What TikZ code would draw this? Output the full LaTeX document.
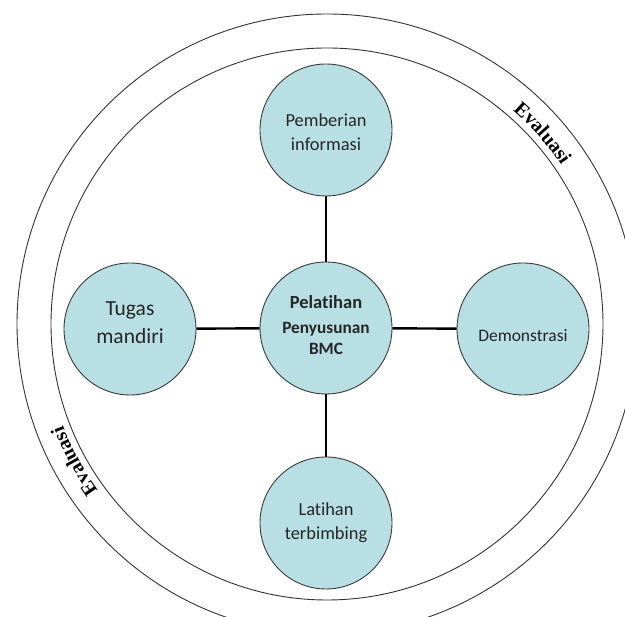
\documentclass[tikz,border=0pt]{standalone}
\usepackage{fontspec}
\setmainfont{Carlito}[RawFeature=-liga]
\newfontfamily\evalfont{Liberation Serif}
\usetikzlibrary{decorations.text,calc}
\definecolor{bubble}{HTML}{B8DFE3}
\definecolor{rim}{HTML}{3A3A3A}
\tikzset{
  bubblenode/.style={circle, draw=rim, line width=0.9pt, fill=bubble, minimum size=132pt, inner sep=0pt, align=center, text=black!85},
  bubbletext/.style={align=center, text=black!85},
  ring/.style={draw=black!80, line width=0.9pt},
  link/.style={draw=black, line width=2.4pt},
  evaltext/.style={decorate, decoration={text along path, text align=center,
     text={|\evalfont\bfseries\fontsize{20}{20}\selectfont|Evaluasi}}}
}
\begin{document}
\begin{tikzpicture}[x=1pt,y=1pt]
\useasboundingbox (0,0) rectangle (625,617);
\clip (0,0) rectangle (625,617);
\fill[white] (0,0) rectangle (625,617);
\coordinate (O) at (327,293);
\draw[ring] (O) circle[radius=310];
\draw[ring] (O) circle[radius=276];
\path[evaltext] ($(O)+(50:283)$) arc[start angle=50, end angle=33, radius=283];
\path[evaltext] ($(O)+(217:283)$) arc[start angle=217, end angle=200, radius=283];
\node[bubblenode] (c) at (326,289) {};
\node[bubbletext, font=\bfseries\fontsize{17.3}{21}\selectfont] (ct) at (326,292) {{\fontsize{18.5}{25}\selectfont Pelatihan}\\[4pt]Penyusunan\\BMC};
\node[bubblenode] (t) at (326,487) {};
\node[bubbletext, font=\fontsize{18.4}{24}\selectfont] (tt) at (326,485) {Pemberian\\informasi};
\node[bubblenode] (b) at (326,94) {};
\node[bubbletext, font=\fontsize{18.4}{24}\selectfont] (bt) at (326,94) {Latihan\\terbimbing};
\node[bubblenode] (l) at (130,288) {};
\node[bubbletext, font=\fontsize{21.5}{28}\selectfont] (lt) at (130,294) {Tugas\\mandiri};
\node[bubblenode] (r) at (523,288) {};
\node[bubbletext, font=\fontsize{17.5}{21}\selectfont] (rt) at (523,281) {Demonstrasi};
\draw[link] (c) -- (t);
\draw[link] (c) -- (b);
\draw[link] (c) -- (l);
\draw[link] (c) -- (r);
\end{tikzpicture}
\end{document}
